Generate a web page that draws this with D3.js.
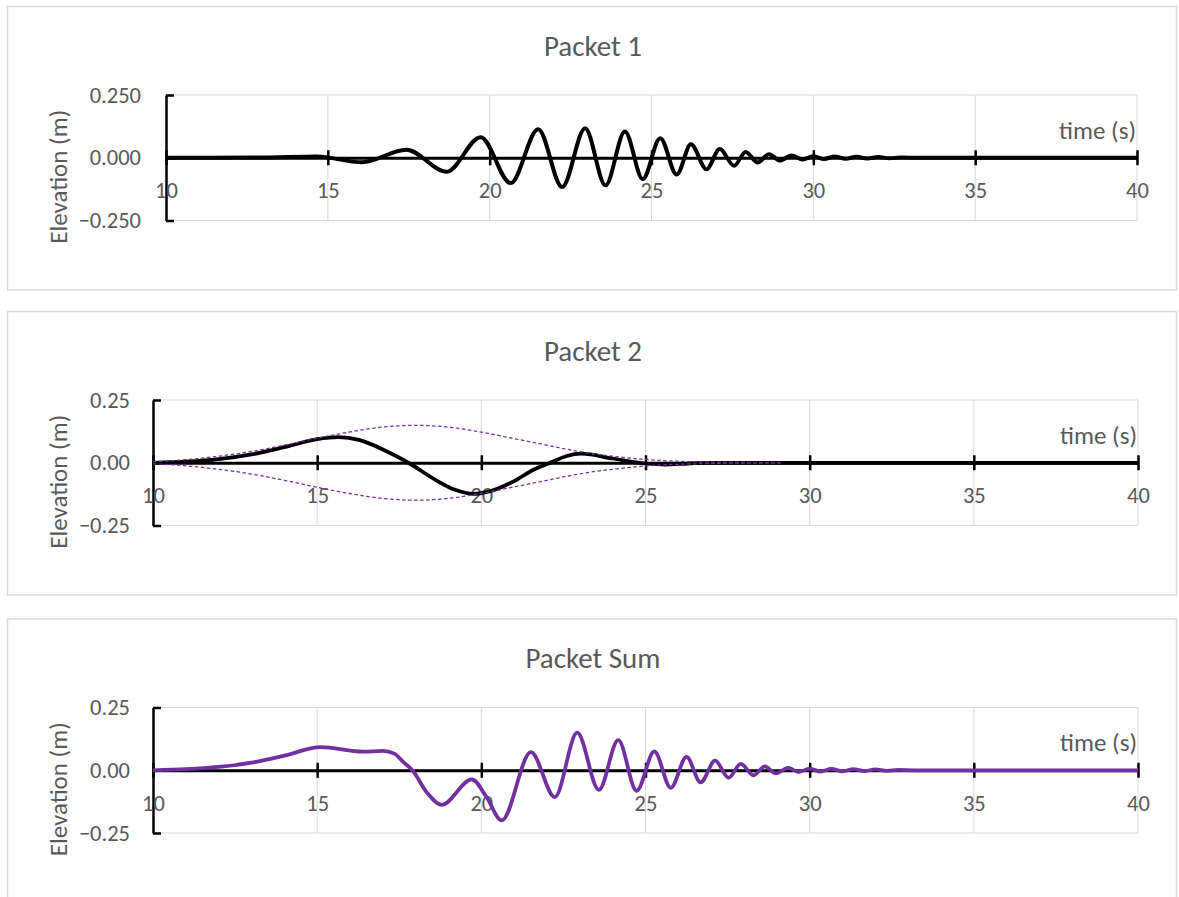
<!DOCTYPE html>
<html>
<head>
<meta charset="utf-8">
<script src="https://cdn.jsdelivr.net/npm/d3@7/dist/d3.min.js"></script>
<style>
  html, body { margin: 0; padding: 0; background: #ffffff; }
  svg { display: block; font-family: Carlito, Lato, "Liberation Sans", sans-serif; }
</style>
</head>
<body>
<svg id="chart" width="1179" height="897"></svg>
<script>
// ---- data -------------------------------------------------------------
const xTicks = [10, 15, 20, 25, 30, 35, 40];
const yTicks = [-0.25, 0, 0.25];
const panelTitles = ["Packet 1", "Packet 2", "Packet Sum"];
const xTitle = "time (s)";
const yTitle = "Elevation (m)";

// Packet 1: chirped wave packet (turning points of the record)
const p1Time = [10, 13, 14.65, 16.05, 17.43, 18.67, 19.72, 20.65, 21.5, 22.24, 22.95, 23.58, 24.18,
  24.73, 25.27, 25.78, 26.22, 26.7, 27.11, 27.55, 27.91, 28.28, 28.63, 28.97, 29.33, 29.67, 30.0,
  30.33, 30.66, 31.0, 31.33, 31.67, 32.0, 32.35, 32.7, 33.2, 40];
const p1Elev = [0, 0.001, 0.005, -0.018, 0.032, -0.056, 0.082, -0.101, 0.114, -0.117, 0.118, -0.11, 0.105,
  -0.085, 0.078, -0.067, 0.054, -0.046, 0.035, -0.032, 0.023, -0.019, 0.014, -0.011, 0.009, -0.007, 0.006,
  -0.005, 0.005, -0.004, 0.004, -0.003, 0.003, -0.002, 0.001, 0, 0];

// Packet 2: long-period packet
const p2Time = [10, 11, 12, 13, 14, 15, 15.65, 16.3, 17.0, 17.78, 18.6, 19.2, 19.75, 20.3, 21.0,
  21.6, 22.1, 22.6, 23.05, 24.0, 25.0, 25.6, 26.3, 27.0, 40];
const p2Elev = [0, 0.004, 0.014, 0.033, 0.062, 0.094, 0.102, 0.09, 0.053, 0, -0.068, -0.108, -0.124, -0.112, -0.073,
  -0.027, 0, 0.027, 0.036, 0.017, -0.003, -0.007, -0.003, 0, 0];

// Packet 2 envelope
const envTime = [10, 11, 12, 13, 14, 15, 16, 17, 18, 19, 20, 21, 22, 23, 24, 25, 26, 27, 28, 29.15];
const envUpper = [0.004, 0.012, 0.026, 0.045, 0.07, 0.098, 0.123, 0.142, 0.149, 0.142, 0.122, 0.096,
  0.07, 0.044, 0.026, 0.013, 0.006, 0.003, 0.001, 0];
const envLower = [-0.004, -0.012, -0.026, -0.045, -0.07, -0.098, -0.123, -0.142, -0.149, -0.142, -0.122, -0.096,
  -0.07, -0.044, -0.026, -0.013, -0.006, -0.003, -0.001, 0];

// Sum of both packets
const sumTime = [10, 11, 12, 13, 14, 15.1, 16.4, 17.0, 17.35, 17.62, 17.9, 18.35, 18.79, 19.71, 20.15, 20.62,
  21.51, 22.24, 22.92, 23.58, 24.17, 24.73, 25.27, 25.77, 26.25, 26.68, 27.12, 27.53, 27.9, 28.29, 28.63,
  28.97, 29.35, 29.66, 30.0, 30.33, 30.66, 31.0, 31.33, 31.67, 32.0, 32.35, 32.7, 33.2, 40];
const sumElev = [0, 0.004, 0.013, 0.03, 0.058, 0.092, 0.074, 0.077, 0.066, 0.033, 0, -0.09, -0.138, -0.036, -0.105, -0.2,
  0.072, -0.107, 0.15, -0.078, 0.12, -0.082, 0.075, -0.07, 0.053, -0.048, 0.038, -0.03, 0.025, -0.02, 0.015,
  -0.012, 0.009, -0.007, 0.006, -0.005, 0.005, -0.004, 0.004, -0.003, 0.003, -0.002, 0.001, 0, 0];

// ---- layout -------------------------------------------------------------
const TEXT = "#595959", GRID = "#d9d9d9", PURPLE = "#7030a0";
const TICK_FONT = 22.5, TITLE_FONT = 29, AXIS_TITLE_FONT = 25;
const panels = [
  { top: 6.5, bottom: 290, left: 166, right: 1137, yFmt: ".3f", labelPad: 25,
    series: [{ t: p1Time, v: p1Elev, color: "#000000", width: 4 }] },
  { top: 311.5, bottom: 595, left: 153, right: 1138, yFmt: ".2f", labelPad: 23,
    series: [{ t: p2Time, v: p2Elev, color: "#000000", width: 3.75 },
             { t: envTime, v: envUpper, color: PURPLE, width: 1.25, dash: "3.5,2.5" },
             { t: envTime, v: envLower, color: PURPLE, width: 1.25, dash: "3.5,2.5" }] },
  { top: 619, bottom: 903, left: 153, right: 1138, yFmt: ".2f", labelPad: 23,
    series: [{ t: sumTime, v: sumElev, color: PURPLE, width: 3.75 }] }
];

const svg = d3.select("#chart");

panels.forEach((p, i) => {
  const g = svg.append("g");
  // chart frame
  g.append("rect")
    .attr("x", 7.5).attr("y", p.top)
    .attr("width", 1169).attr("height", p.bottom - p.top)
    .attr("fill", "#ffffff").attr("stroke", GRID).attr("stroke-width", 1.5);

  const plotTop = p.top + 88.5, plotBottom = plotTop + 125.5;
  const x = d3.scaleLinear().domain([10, 40]).range([p.left, p.right]);
  const y = d3.scaleLinear().domain([-0.25, 0.25]).range([plotBottom, plotTop]);

  // title
  g.append("text")
    .attr("x", 593).attr("y", p.top + 39)
    .attr("text-anchor", "middle").attr("dominant-baseline", "central")
    .attr("fill", TEXT).attr("font-size", TITLE_FONT)
    .text(panelTitles[i]);

  // gridlines
  g.append("g").selectAll("line").data(xTicks.slice(1)).join("line")
    .attr("x1", d => x(d)).attr("x2", d => x(d))
    .attr("y1", y(0.25)).attr("y2", y(-0.25))
    .attr("stroke", GRID).attr("stroke-width", 1);
  g.append("g").selectAll("line").data(yTicks).join("line")
    .attr("x1", x(10)).attr("x2", x(40))
    .attr("y1", d => y(d)).attr("y2", d => y(d))
    .attr("stroke", GRID).attr("stroke-width", 1);

  // y axis: inward ticks, labels to the left
  const yAxis = g.append("g")
    .attr("transform", `translate(${x(10)},0)`)
    .call(d3.axisLeft(y).tickValues(yTicks).tickFormat(d3.format(p.yFmt))
      .tickSize(-8).tickSizeOuter(0).tickPadding(p.labelPad));
  yAxis.attr("font-family", null).attr("font-size", null);
  yAxis.select(".domain").attr("stroke", "#000").attr("stroke-width", 2.5);
  yAxis.selectAll(".tick line").attr("stroke", "#000").attr("stroke-width", 2.5);
  yAxis.selectAll(".tick text").attr("fill", TEXT).attr("font-size", TICK_FONT);

  // x axis along zero, crossing ticks
  const xAxis = g.append("g")
    .attr("transform", `translate(0,${y(0)})`)
    .call(d3.axisBottom(x).tickValues(xTicks).tickFormat(d3.format("d"))
      .tickSize(7.5).tickSizeOuter(0).tickPadding(17));
  xAxis.attr("font-family", null).attr("font-size", null);
  xAxis.select(".domain").attr("stroke", "#000").attr("stroke-width", 3);
  xAxis.selectAll(".tick line").attr("y1", -7.5).attr("stroke", "#000").attr("stroke-width", 2.5);
  xAxis.selectAll(".tick text").attr("fill", TEXT).attr("font-size", TICK_FONT);

  // axis titles
  g.append("text")
    .attr("x", x(40) - 1).attr("y", y(0) - 19)
    .attr("text-anchor", "end")
    .attr("fill", TEXT).attr("font-size", AXIS_TITLE_FONT)
    .text(xTitle);
  g.append("text")
    .attr("transform", `translate(58,${y(0) + 19}) rotate(-90)`)
    .attr("text-anchor", "middle").attr("dominant-baseline", "central")
    .attr("fill", TEXT).attr("font-size", AXIS_TITLE_FONT)
    .text(yTitle);

  // series
  const line = d3.line().curve(d3.curveMonotoneX)
    .x(d => x(d[0])).y(d => y(d[1]));
  p.series.forEach(s => {
    g.append("path")
      .datum(d3.zip(s.t, s.v))
      .attr("d", line)
      .attr("fill", "none")
      .attr("stroke", s.color)
      .attr("stroke-width", s.width)
      .attr("stroke-linejoin", "round")
      .attr("stroke-dasharray", s.dash || null);
  });
});
</script>
</body>
</html>
